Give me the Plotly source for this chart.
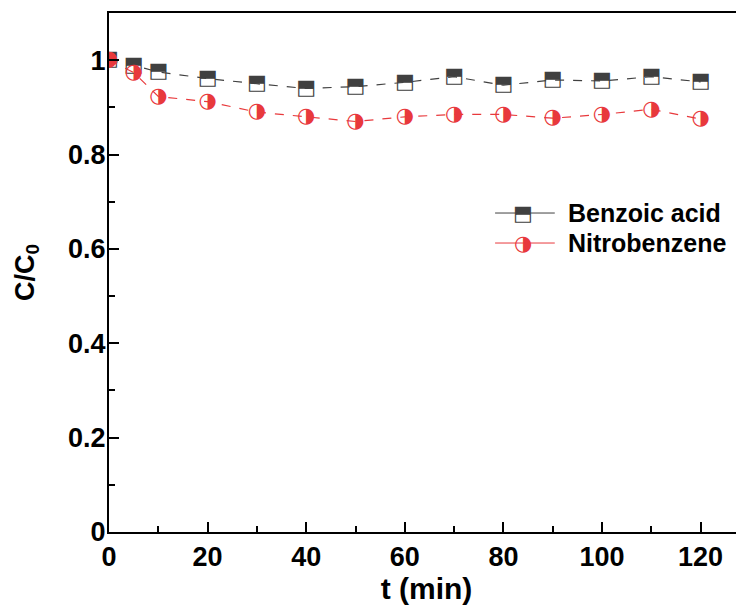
import plotly.graph_objects as go

t = [0, 5, 10, 20, 30, 40, 50, 60, 70, 80, 90, 100, 110, 120]
benzoic = [1.0, 0.989, 0.975, 0.961, 0.950, 0.940, 0.944, 0.953, 0.965, 0.947, 0.958, 0.956, 0.965, 0.954]
nitro = [1.0, 0.974, 0.923, 0.912, 0.890, 0.880, 0.870, 0.880, 0.885, 0.885, 0.877, 0.885, 0.896, 0.875]

FONT = "Liberation Sans"
GRAY = "#404040"
RED = "#e8393c"

fig = go.Figure()
fig.add_trace(go.Scatter(
    x=t, y=benzoic, name="Benzoic acid", mode="lines+text",
    text=["\u2B12"] * len(t), textposition="middle center",
    textfont=dict(family="DejaVu Sans", size=21, color=GRAY),
    line=dict(color=GRAY, width=1.2, dash="dash"), showlegend=False,
))
fig.add_trace(go.Scatter(
    x=t, y=nitro, name="Nitrobenzene", mode="lines+text",
    text=["\u25D1"] * len(t), textposition="middle center",
    textfont=dict(family="DejaVu Sans", size=21, color=RED),
    line=dict(color=RED, width=1.2, dash="dash"), showlegend=False,
))

# manual legend (paper coordinates)
legend_items = [("Benzoic acid", "\u2B12", GRAY, 0.6146), ("Nitrobenzene", "\u25D1", RED, 0.5568)]
for label, glyph, col, yp in legend_items:
    fig.add_shape(type="line", xref="paper", yref="paper", x0=0.608, x1=0.702,
                  y0=yp, y1=yp, line=dict(color=col, width=1))
    fig.add_annotation(xref="paper", yref="paper", x=0.652, y=yp, text=glyph,
                       showarrow=False, font=dict(family="DejaVu Sans", size=21, color=col),
                       xanchor="center", yanchor="middle")
    fig.add_annotation(xref="paper", yref="paper", x=0.719, y=yp, text=label,
                       showarrow=False, font=dict(family=FONT, size=25, color="black", weight="bold"),
                       xanchor="left", yanchor="middle")

axis_common = dict(
    showline=True, linecolor="black", linewidth=2, ticks="inside", ticklen=10, tickwidth=2,
    tickcolor="black", showgrid=False, zeroline=False,
    tickfont=dict(family=FONT, size=27, color="black", weight="bold"),
)
fig.update_xaxes(range=[0, 128.8], dtick=20, mirror=True,
                 minor=dict(dtick=10, ticks="inside", ticklen=6, tickwidth=2, tickcolor="black"),
                 title=dict(text="t (min)", font=dict(family=FONT, size=30, color="black", weight="bold"), standoff=6),
                 **axis_common)
fig.update_yaxes(range=[0, 1.1], dtick=0.2, ticklabelstandoff=-4,
                 minor=dict(dtick=0.1, ticks="inside", ticklen=6, tickwidth=2, tickcolor="black"),
                 title=dict(text="C/C<sub>0</sub>", font=dict(family=FONT, size=27, color="black", weight="bold"), standoff=26),
                 **axis_common)
fig.update_layout(
    width=736, height=604, margin=dict(l=101, r=0, t=5, b=80, autoexpand=False),
    paper_bgcolor="white", plot_bgcolor="white",
)
fig.write_html("out.html")
